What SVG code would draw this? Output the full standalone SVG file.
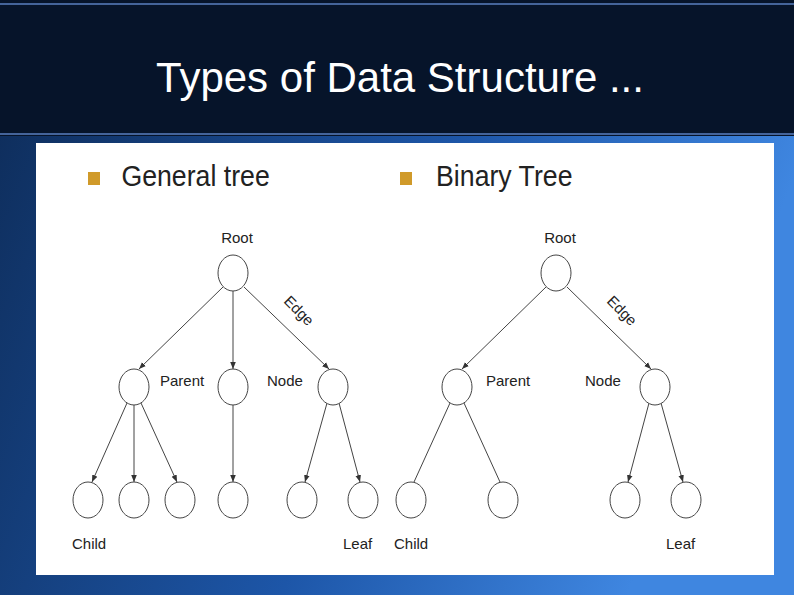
<svg xmlns="http://www.w3.org/2000/svg" width="794" height="595" viewBox="0 0 794 595">
<defs>
<linearGradient id="bg" x1="0" y1="0" x2="1" y2="0.3"><stop offset="0" stop-color="#0d2a55"/><stop offset="0.6" stop-color="#1d56a8"/><stop offset="1" stop-color="#3f86e0"/></linearGradient>
<marker id="ah" viewBox="0 0 10 10" refX="10" refY="5" markerWidth="7" markerHeight="7" orient="auto"><path d="M0,1 L10,5 L0,9 z" fill="#333"/></marker>
<style>
.n{fill:#fff;stroke:#444;stroke-width:1}
.e{stroke:#444;stroke-width:1;fill:none;marker-end:url(#ah)}
.t{font-family:"Liberation Sans",Arial,sans-serif;font-size:15px;fill:#222}
.h{font-family:"Liberation Sans",Arial,sans-serif;font-size:29px;fill:#222}
</style>
</defs>
<rect width="794" height="595" fill="url(#bg)"/>
<rect width="794" height="136" fill="#06142a"/>
<line x1="0" y1="4" x2="794" y2="4" stroke="#5a7fc0" stroke-width="1.5"/>
<line x1="0" y1="134" x2="794" y2="134" stroke="#5a7fc0" stroke-width="1.5"/>
<text x="400" y="92" text-anchor="middle" font-family="Liberation Sans,Arial,sans-serif" font-size="42" fill="#fff">Types of Data Structure ...</text>
<rect x="36" y="143" width="738" height="432" fill="#fff"/>
<rect x="88" y="172" width="12" height="13" fill="#d09a2a"/>
<text class="h" x="122" y="186" transform="scale(0.92 1) translate(10 0)">General tree</text>
<rect x="400" y="172" width="12" height="13" fill="#d09a2a"/>
<text class="h" x="436" y="186" transform="scale(0.92 1) translate(38 0)">Binary Tree</text>
<g id="edges">
<path class="e" d="M223,287 L139,369"/>
<path class="e" d="M233,291 L233,369"/>
<path class="e" d="M244,287 L329,369"/>
<path class="e" d="M127,403 L92,482"/>
<path class="e" d="M134,405 L134,482"/>
<path class="e" d="M141,403 L177,482"/>
<path class="e" d="M233,405 L233,482"/>
<path class="e" d="M327,403 L305,482"/>
<path class="e" d="M339,403 L360,482"/>
<path class="e" d="M546,287 L462,369"/>
<path class="e" d="M567,287 L651,369"/>
<path d="M450,403 L414,482 M464,403 L500,482" stroke="#444" fill="none"/>
<path class="e" d="M649,403 L628,482"/>
<path class="e" d="M661,403 L683,482"/>
</g>
<g id="g-root"><ellipse class="n" cx="233" cy="273" rx="15" ry="18"/><text class="t" x="237" y="243" text-anchor="middle">Root</text></g>
<g id="g-parent"><ellipse class="n" cx="134" cy="387" rx="15" ry="18"/></g>
<g id="g-mid"><ellipse class="n" cx="233" cy="387" rx="15" ry="18"/></g>
<g id="g-right"><ellipse class="n" cx="333" cy="387" rx="15" ry="18"/></g>
<g id="g-l1"><ellipse class="n" cx="88" cy="500" rx="15" ry="18"/></g>
<g id="g-l2"><ellipse class="n" cx="134" cy="500" rx="15" ry="18"/></g>
<g id="g-l3"><ellipse class="n" cx="180" cy="500" rx="15" ry="18"/></g>
<g id="g-l4"><ellipse class="n" cx="233" cy="500" rx="15" ry="18"/></g>
<g id="g-l5"><ellipse class="n" cx="302" cy="500" rx="15" ry="18"/></g>
<g id="g-l6"><ellipse class="n" cx="363" cy="500" rx="15" ry="18"/></g>
<text class="t" x="160" y="386">Parent</text>
<text class="t" x="267" y="386">Node</text>
<text class="t" x="72" y="549">Child</text>
<text class="t" x="343" y="549">Leaf</text>
<text class="t" transform="translate(283 302) rotate(45)">Edge</text>
<g id="b-root"><ellipse class="n" cx="556" cy="273" rx="15" ry="18"/><text class="t" x="560" y="243" text-anchor="middle">Root</text></g>
<g id="b-left"><ellipse class="n" cx="457" cy="387" rx="15" ry="18"/></g>
<g id="b-right"><ellipse class="n" cx="655" cy="387" rx="15" ry="18"/></g>
<g id="b-l1"><ellipse class="n" cx="411" cy="500" rx="15" ry="18"/></g>
<g id="b-l2"><ellipse class="n" cx="503" cy="500" rx="15" ry="18"/></g>
<g id="b-l3"><ellipse class="n" cx="625" cy="500" rx="15" ry="18"/></g>
<g id="b-l4"><ellipse class="n" cx="686" cy="500" rx="15" ry="18"/></g>
<text class="t" x="486" y="386">Parent</text>
<text class="t" x="585" y="386">Node</text>
<text class="t" x="394" y="549">Child</text>
<text class="t" x="666" y="549">Leaf</text>
<text class="t" transform="translate(606 302) rotate(45)">Edge</text>
</svg>
